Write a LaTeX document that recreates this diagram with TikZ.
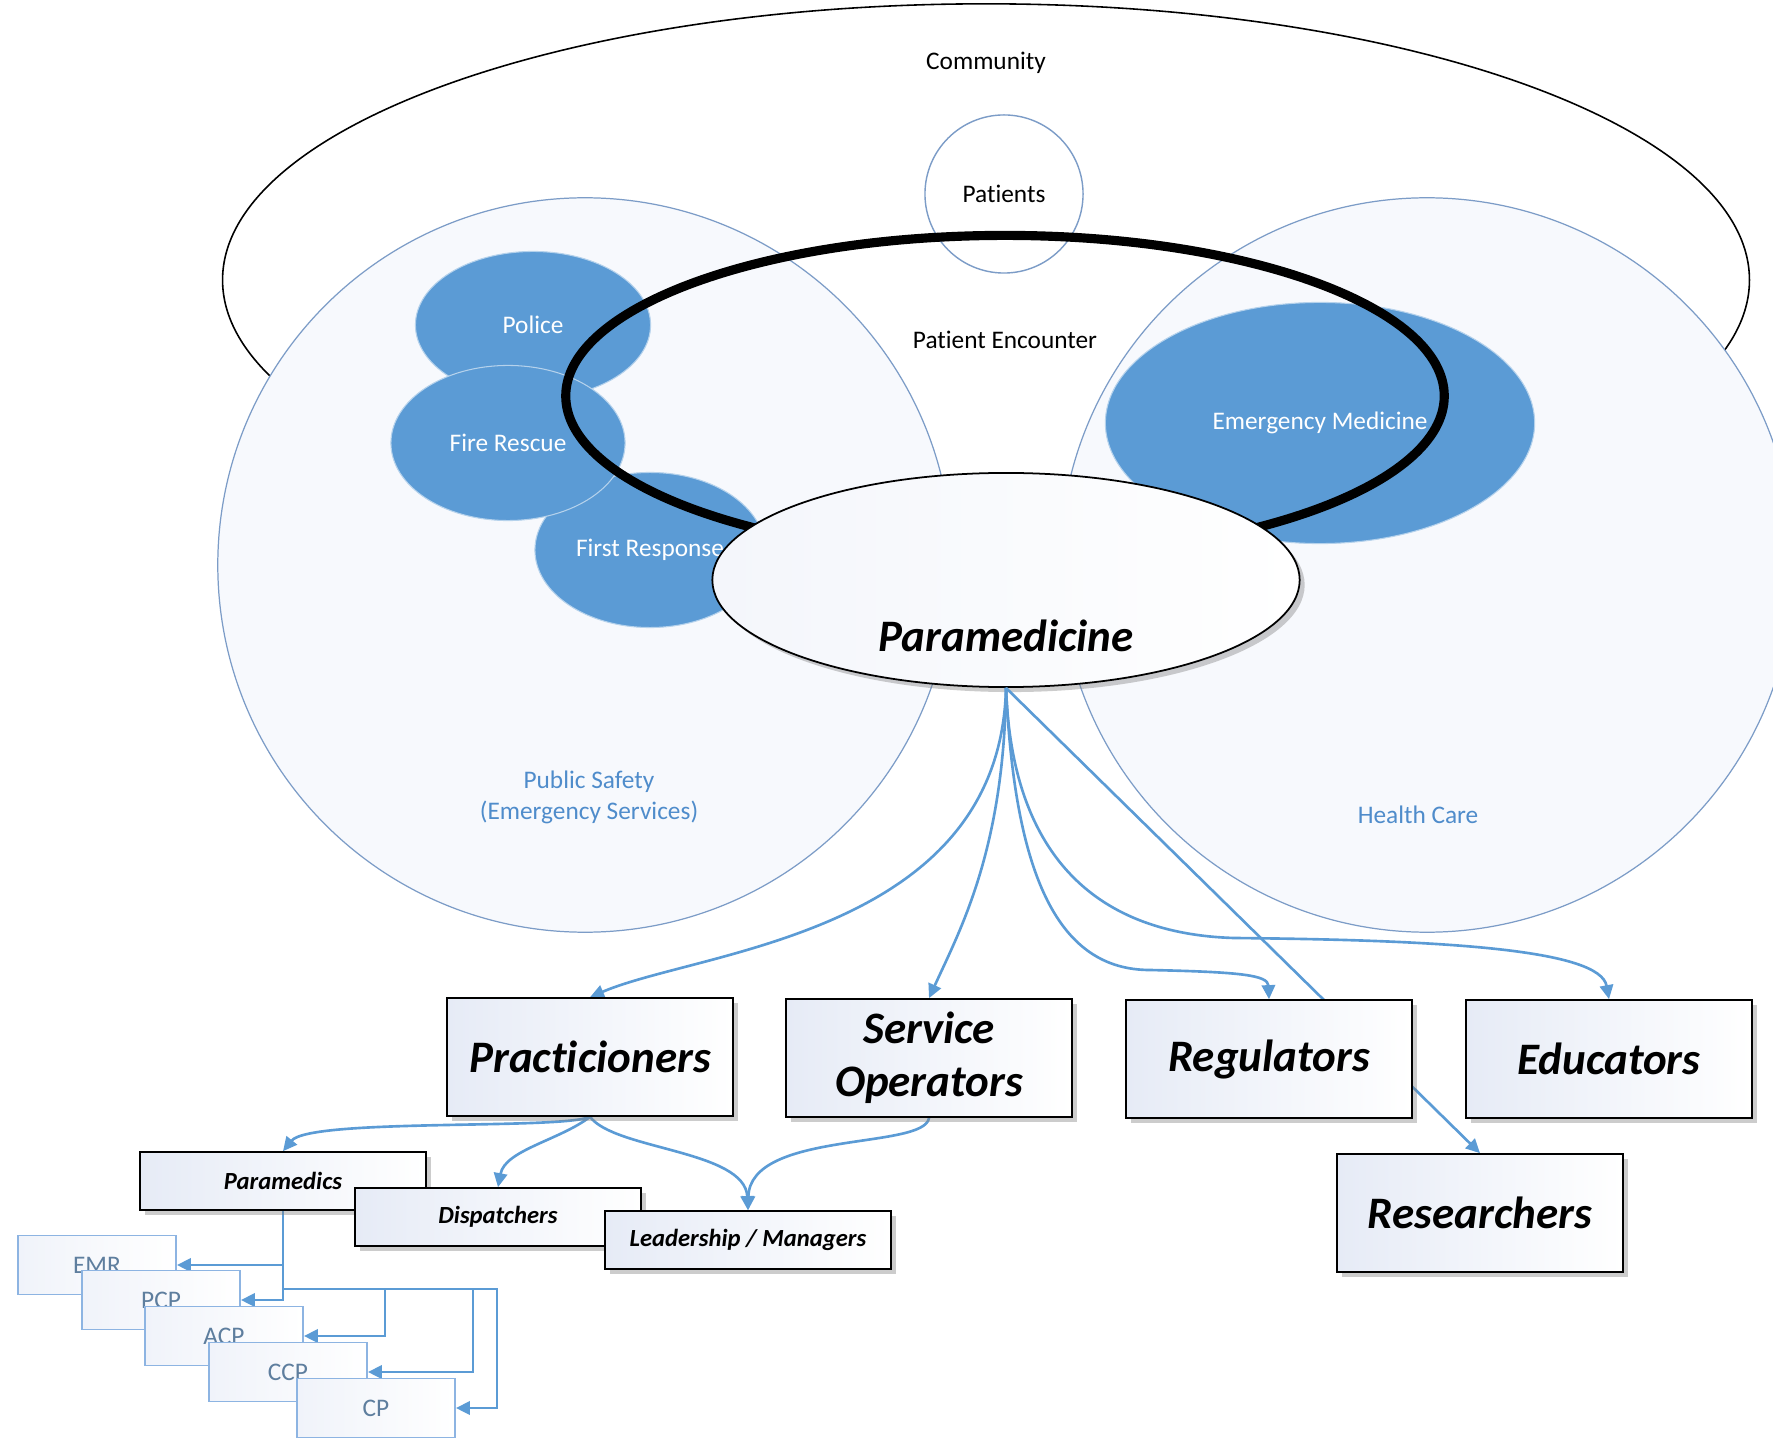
\documentclass[tikz,border=0pt]{standalone}
\usepackage{fontspec}
\setmainfont{Carlito}[RawFeature={-liga;-clig;-calt}]
\usetikzlibrary{shapes.geometric,arrows.meta,shadows}

\definecolor{bluefill}{HTML}{5B9BD5}
\definecolor{arrowblue}{HTML}{5B9BD5}
\definecolor{ringline}{HTML}{7C9CC7}
\definecolor{ringfill}{HTML}{F7F9FD}
\definecolor{boxshade}{HTML}{E6EBF6}
\definecolor{smallline}{HTML}{8DB4E2}
\definecolor{smalltext}{HTML}{5E7E9E}
\definecolor{sectortext}{HTML}{4F8CCB}

\pgfdeclarelayer{front}
\pgfsetlayers{main,front}

\tikzset{
  blob/.style={ellipse, fill=bluefill, draw=white!55!bluefill, line width=0.3pt, text=white, inner sep=0pt},
  sector/.style={circle, draw=ringline, line width=0.35pt, fill=ringfill, minimum size=7.34cm, inner sep=0pt},
  bigbox/.style={rectangle, draw=black, line width=0.45pt, left color=boxshade, right color=white,
    drop shadow={shadow xshift=0.05cm, shadow yshift=-0.05cm, opacity=0.4},
    minimum width=2.86cm, minimum height=1.18cm, align=center,
    font=\fontsize{12.8}{15}\selectfont\bfseries\itshape},
  midbox/.style={bigbox, minimum height=0.58cm, font=\fontsize{7}{8.4}\selectfont\bfseries\itshape},
  levelbox/.style={rectangle, draw=smallline, line width=0.5pt, left color=boxshade!60!white, right color=white,
    minimum width=1.58cm, minimum height=0.59cm, text=smalltext},
  arr/.style={draw=arrowblue, line width=0.75pt, -{Triangle[length=4pt,width=3.8pt]}},
}

\begin{document}
\begin{tikzpicture}[x=0.01cm, y=-0.01cm, font=\fontsize{7.2}{8.8}\selectfont]
\useasboundingbox (0,0) rectangle (1773,1440);

% community and the two sectors
\node (comm) [ellipse, draw=black, line width=0.45pt, fill=white, minimum width=15.26cm, minimum height=5.52cm] at (986,280) {};
\node (commtxt) at (986,63) {Community};
\node (safety) [sector] at (585,565) {};
\node (health) [sector] at (1427,565) {};
\node (safetytxt) [text=sectortext, align=center] at (589,797) {Public Safety\\(Emergency Services)};
\node (healthtxt) [text=sectortext] at (1418,815) {Health Care};
\node (pat) [circle, draw=ringline, line width=0.4pt, fill=white, minimum size=1.58cm] at (1004,194) {Patients};

% services
\node (police) [blob, minimum width=2.35cm, minimum height=1.47cm] at (533,325) {Police};
\node (first) [blob, minimum width=2.3cm, minimum height=1.55cm] at (650,550) {First Response};
\node (fire) [blob, minimum width=2.34cm, minimum height=1.55cm] at (508,443) {Fire Rescue};
\node (emed) [blob, minimum width=4.29cm, minimum height=2.41cm] at (1320,423) {Emergency Medicine};

% patient encounter
\node (enc) [ellipse, draw=black, line width=2.6pt, minimum width=8.78cm, minimum height=3.21cm] at (1005,396) {};
\node (enctxt) at (1005,340) {Patient Encounter};
\node (par) [ellipse, draw=black, line width=0.5pt, left color=boxshade!45!white, right color=white,
  drop shadow={shadow xshift=0.05cm, shadow yshift=-0.05cm, opacity=0.4},
  minimum width=5.87cm, minimum height=2.14cm] at (1006,580) {};
\node (partxt) [font=\fontsize{12.8}{15}\selectfont\bfseries\itshape] at (1006,636) {Paramedicine};

% groups
\begin{pgfonlayer}{front}
\node (prac) [bigbox] at (590,1057) {Practicioners};
\node (sop) [bigbox] at (929,1058) {Service\\Operators};
\node (reg) [bigbox] at (1269,1059) {Regulators};
\node (edu) [bigbox] at (1609,1059) {Educators};
\node (res) [bigbox] at (1480,1213) {Researchers};
\node (para) [midbox] at (283,1181) {Paramedics};
\node (disp) [midbox] at (498,1217) {Dispatchers};
\node (lead) [midbox] at (748,1240) {Leadership / Managers};
\node (emr) [levelbox] at (97,1265) {EMR};
\node (pcp) [levelbox] at (161,1300) {PCP};
\node (acp) [levelbox] at (224,1336) {ACP};
\node (ccp) [levelbox] at (288,1372) {CCP};
\node (cp) [levelbox] at (376,1408) {CP};
\end{pgfonlayer}

% links
\draw[arr] (par.south) .. controls (1000,935) and (700,950) .. (prac.north);
\draw[arr] (par.south) .. controls (1004,850) and (960,930) .. (sop.north);
\draw[arr] (par.south) .. controls (1015,880) and (1060,970) .. (1150,970) .. controls (1240,972) and (1268,975) .. (reg.north);
\draw[arr] (par.south) .. controls (1012,860) and (1100,934) .. (1234,938) .. controls (1450,940) and (1600,950) .. (edu.north);
\draw[arr] (par.south) -- (res.north);
\draw[arr] (prac.south) .. controls (560,1130) and (310,1118) .. (para.north);
\draw[arr] (prac.south) .. controls (560,1140) and (505,1150) .. (disp.north);
\draw[arr] (prac.south) .. controls (615,1150) and (745,1150) .. (lead.north);
\draw[arr] (sop.south) .. controls (925,1150) and (750,1130) .. (lead.north);
\draw[arr] (para.south) |- (emr.east);
\draw[arr] (para.south) |- (pcp.east);
\draw[arr] (para.south) |- (385,1289) |- (acp.east);
\draw[arr] (para.south) |- (473,1289) |- (ccp.east);
\draw[arr] (para.south) |- (497,1289) |- (cp.east);
\end{tikzpicture}
\end{document}
